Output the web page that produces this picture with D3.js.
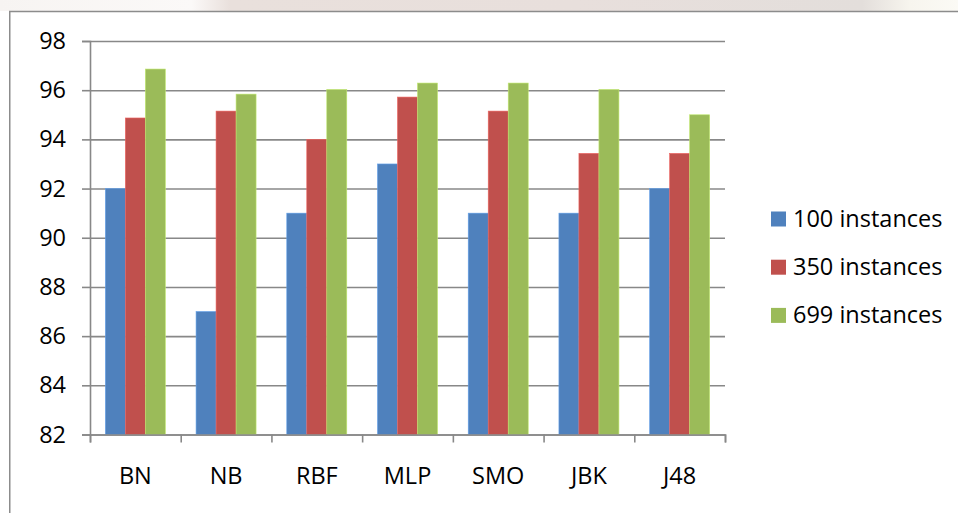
<!DOCTYPE html>
<html>
<head>
<meta charset="utf-8">
<script src="https://cdn.jsdelivr.net/npm/d3@7"></script>
<style>
  html, body { margin: 0; padding: 0; background: #ffffff; }
  svg { display: block; }
  text { font-family: "Open Sans", "Liberation Sans", sans-serif; fill: #000; }
</style>
</head>
<body>
<svg id="chart" width="958" height="513"></svg>
<script>
const categories = ["BN", "NB", "RBF", "MLP", "SMO", "JBK", "J48"];
const seriesNames = ["100 instances", "350 instances", "699 instances"];
const values100 = [92, 87, 91, 93, 91, 91, 92];
const values350 = [94.87, 95.15, 94.0, 95.72, 95.15, 93.43, 93.43];
const values699 = [96.86, 95.84, 96.03, 96.29, 96.29, 96.03, 95.0];
const yTicks = [82, 84, 86, 88, 90, 92, 94, 96, 98];
const colors = ["#4F81BD", "#C0504D", "#9BBB59"];

const seriesValues = [values100, values350, values699];
const rows = categories.map((c, i) => ({
  cat: c,
  vals: seriesNames.map((s, k) => ({ series: s, k: k, v: seriesValues[k][i] }))
}));

const svg = d3.select("#chart");
const plot = { left: 90, right: 725, top: 41, bottom: 434.5 };

// faint watermark band above the chart frame
const defs = svg.append("defs");
const grad = defs.append("linearGradient").attr("id", "wm").attr("x1", "0").attr("x2", "1");
grad.append("stop").attr("offset", "0").attr("stop-color", "#f7f4f2");
grad.append("stop").attr("offset", "0.2").attr("stop-color", "#fbf9f8");
grad.append("stop").attr("offset", "0.24").attr("stop-color", "#e9e0dc");
grad.append("stop").attr("offset", "0.6").attr("stop-color", "#e8dfdc");
grad.append("stop").attr("offset", "0.9").attr("stop-color", "#e3dedb");
grad.append("stop").attr("offset", "0.95").attr("stop-color", "#f7f5ee");
grad.append("stop").attr("offset", "1").attr("stop-color", "#fbfaf5");
svg.append("rect").attr("x", 0).attr("y", 0).attr("width", 958).attr("height", 11)
  .attr("fill", "url(#wm)");

// chart frame
svg.append("rect")
  .attr("x", 9.75).attr("y", 11.5).attr("width", 1000).attr("height", 600)
  .attr("fill", "#ffffff").attr("stroke", "#8c8c8c").attr("stroke-width", 1.5);

const x0 = d3.scaleBand().domain(categories).range([plot.left, plot.right])
  .paddingInner(0.3386).paddingOuter(0.1693);
const x1 = d3.scaleBand().domain(seriesNames).range([0, x0.bandwidth()]);
const y = d3.scaleLinear().domain([82, 98]).range([plot.bottom, plot.top]);

// gridlines
const grid = svg.append("g").attr("transform", `translate(${plot.left},0)`)
  .call(d3.axisLeft(y).tickValues(yTicks).tickSize(-(plot.right - plot.left)).tickFormat(""));
grid.select(".domain").remove();
grid.selectAll(".tick line").attr("stroke", "#888888").attr("stroke-width", 1.6);

// y axis with labels
const yAxis = svg.append("g").attr("transform", `translate(${plot.left},0)`)
  .call(d3.axisLeft(y).tickValues(yTicks).tickSize(8).tickPadding(16).tickFormat(d3.format("d")));
yAxis.select(".domain").attr("stroke", "#888888").attr("stroke-width", 1.6);
yAxis.selectAll(".tick line").attr("stroke", "#888888").attr("stroke-width", 1.6);
yAxis.selectAll("text").style("font-size", "23.5px").attr("font-family", null);

// bars
const groups = svg.append("g").selectAll("g").data(rows).join("g")
  .attr("transform", d => `translate(${x0(d.cat)},0)`);
groups.selectAll("rect").data(d => d.vals).join("rect")
  .attr("x", d => x1(d.series))
  .attr("y", d => y(d.v))
  .attr("width", x1.bandwidth())
  .attr("height", d => y(82) - y(d.v))
  .attr("fill", d => colors[d.k])
  .attr("stroke", d => d3.color(colors[d.k]).brighter(0.6))
  .attr("stroke-width", 0.6);

// x axis: boundary ticks
const xb = d3.scaleLinear().domain([0, categories.length]).range([plot.left, plot.right]);
const xTicks = svg.append("g").attr("transform", `translate(0,${plot.bottom})`)
  .call(d3.axisBottom(xb).tickValues(d3.range(categories.length + 1)).tickSize(8).tickFormat(""));
xTicks.select(".domain").attr("stroke", "#888888").attr("stroke-width", 1.6);
xTicks.selectAll(".tick line").attr("stroke", "#888888").attr("stroke-width", 1.6);

// x axis: category labels
const xAxis = svg.append("g").attr("transform", `translate(0,${plot.bottom})`)
  .call(d3.axisBottom(x0).tickSize(0).tickPadding(33));
xAxis.select(".domain").remove();
xAxis.selectAll("text").style("font-size", "23.5px").attr("font-family", null);

// legend
const legend = svg.append("g").attr("transform", "translate(771,211.5)");
const li = legend.selectAll("g").data(seriesNames).join("g")
  .attr("transform", (d, i) => `translate(0,${i * 48.2})`);
li.append("rect").attr("width", 15).attr("height", 15).attr("fill", (d, i) => colors[i]);
li.append("text").attr("x", 22).attr("y", 15.5).style("font-size", "23.5px").text(d => d);
</script>
</body>
</html>
